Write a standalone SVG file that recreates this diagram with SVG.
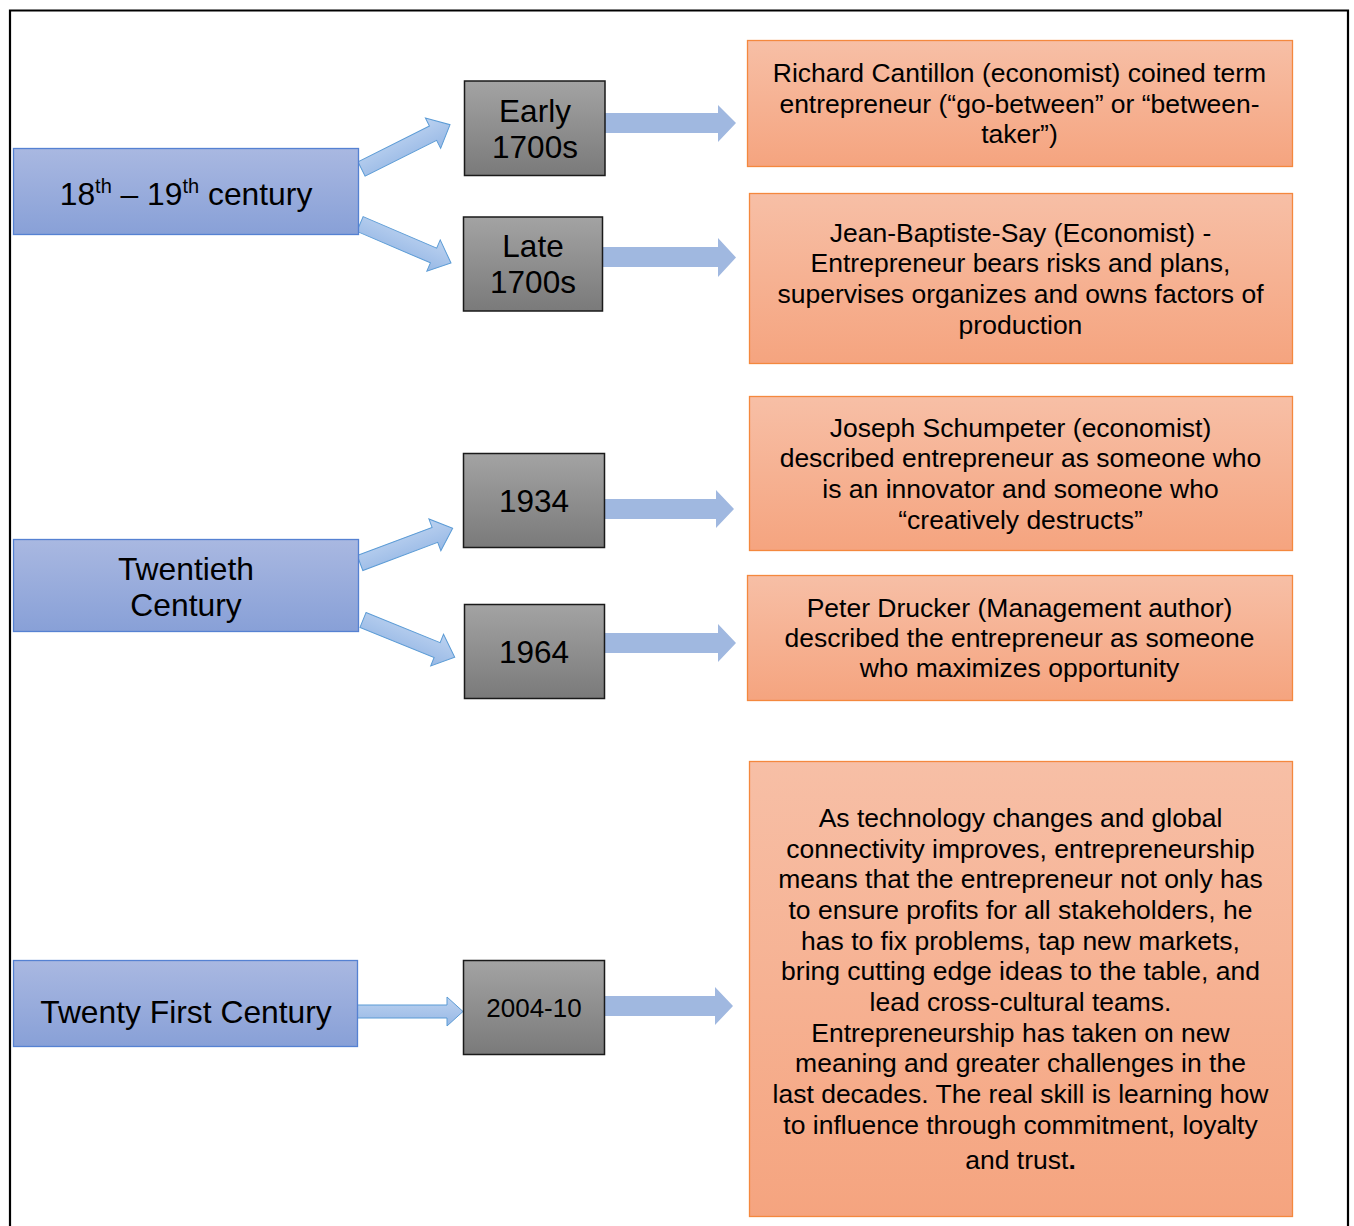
<svg xmlns="http://www.w3.org/2000/svg" width="1354" height="1226" viewBox="0 0 1354 1226">
<defs>
<linearGradient id="gBlue" x1="0" y1="0" x2="0" y2="1"><stop offset="0" stop-color="#a9b8e1"/><stop offset="1" stop-color="#88a0d7"/></linearGradient>
<linearGradient id="gGray" x1="0" y1="0" x2="0" y2="1"><stop offset="0" stop-color="#a3a3a3"/><stop offset="1" stop-color="#7a7a7a"/></linearGradient>
<linearGradient id="gOrange" x1="0" y1="0" x2="0" y2="1"><stop offset="0" stop-color="#f7bfa6"/><stop offset="1" stop-color="#f5a47f"/></linearGradient>
<linearGradient id="gArrow" x1="0" y1="0" x2="0" y2="1"><stop offset="0" stop-color="#bcd2f0"/><stop offset="1" stop-color="#97b8e5"/></linearGradient>
<path id="diag" d="M0,-8 H80 V-17 L99,0 L80,17 V8 H0 Z"/>
</defs>
<style>
text{font-family:"Liberation Sans",Arial,sans-serif;fill:#000;text-anchor:middle}
.blue{fill:url(#gBlue);stroke:#5581d2;stroke-width:1.3}
.gray{fill:url(#gGray);stroke:#1a1a1a;stroke-width:1.5}
.orange{fill:url(#gOrange);stroke:#f4883e;stroke-width:1.3}
.bt{font-size:31.8px}
.gt{font-size:31.5px}
.ot{font-size:26.5px}
.da{fill:url(#gArrow);stroke:#5b9bd5;stroke-width:1}
.ha{fill:#a0b8e0}
</style>
<path d="M10,1226 V10.5 H1348 V1226" fill="none" stroke="#000" stroke-width="2.2"/>
<g id="connectors">
<use href="#diag" class="da" transform="translate(361.5,169) rotate(-26.6)"/>
<use href="#diag" class="da" transform="translate(360,224) rotate(23.2)"/>
<use href="#diag" class="da" transform="translate(360,563) rotate(-20.6)"/>
<use href="#diag" class="da" transform="translate(363,620) rotate(22.1)"/>
<path class="da" d="M356,1005 H447 V997 L463,1011.5 L447,1026 V1018 H356 Z"/>
<path class="ha" d="M605,113 H718 V105 L736,123 L718,142 V133 H605 Z"/>
<path class="ha" d="M603,247 H718 V238 L736,257.5 L718,277 V267 H603 Z"/>
<path class="ha" d="M604,499 H716 V490 L734,509 L716,528 V519 H604 Z"/>
<path class="ha" d="M605,633 H718 V624 L736,643 L718,662 V653 H605 Z"/>
<path class="ha" d="M604,996 H715 V987 L733,1006 L715,1025 V1016 H604 Z"/>
</g>
<g id="n-18th">
<rect class="blue" x="13.5" y="148.5" width="345" height="86"/>
<text class="bt" x="186" y="205">18<tspan font-size="20" dy="-12">th</tspan><tspan dy="12"> – 19</tspan><tspan font-size="20" dy="-12">th</tspan><tspan dy="12"> century</tspan></text>
</g>
<g id="n-20th">
<rect class="blue" x="13.5" y="539.5" width="345" height="92"/>
<text class="bt" x="186" y="580">Twentieth</text>
<text class="bt" x="186" y="616">Century</text>
</g>
<g id="n-21st">
<rect class="blue" x="13.5" y="960.5" width="344" height="86"/>
<text class="bt" x="186" y="1023">Twenty First Century</text>
</g>
<g id="n-early">
<rect class="gray" x="464.5" y="81" width="140.5" height="94.5"/>
<text class="gt" x="535" y="122">Early</text>
<text class="gt" x="535" y="158">1700s</text>
</g>
<g id="n-late">
<rect class="gray" x="463.5" y="217" width="139" height="94"/>
<text class="gt" x="533" y="257">Late</text>
<text class="gt" x="533" y="293">1700s</text>
</g>
<g id="n-1934">
<rect class="gray" x="463.5" y="453.5" width="141" height="94"/>
<text class="gt" x="534" y="512">1934</text>
</g>
<g id="n-1964">
<rect class="gray" x="464.5" y="604.5" width="140" height="94"/>
<text class="gt" x="534" y="663">1964</text>
</g>
<g id="n-2004">
<rect class="gray" x="463.5" y="960.5" width="141" height="94"/>
<text x="534" y="1017" font-size="26px">2004-10</text>
</g>
<g id="n-cantillon">
<rect class="orange" x="747.5" y="40.5" width="545" height="126"/>
<text class="ot" x="1019.5" y="82">Richard Cantillon (economist) coined term</text>
<text class="ot" x="1019.5" y="113">entrepreneur (“go-between” or “between-</text>
<text class="ot" x="1019.5" y="143">taker”)</text>
</g>
<g id="n-say">
<rect class="orange" x="749.5" y="193.5" width="543" height="170"/>
<text class="ot" x="1020.5" y="242">Jean-Baptiste-Say (Economist) -</text>
<text class="ot" x="1020.5" y="272">Entrepreneur bears risks and plans,</text>
<text class="ot" x="1020.5" y="303">supervises organizes and owns factors of</text>
<text class="ot" x="1020.5" y="334">production</text>
</g>
<g id="n-schumpeter">
<rect class="orange" x="749.5" y="396.5" width="543" height="154"/>
<text class="ot" x="1020.5" y="437">Joseph Schumpeter (economist)</text>
<text class="ot" x="1020.5" y="467">described entrepreneur as someone who</text>
<text class="ot" x="1020.5" y="498">is an innovator and someone who</text>
<text class="ot" x="1020.5" y="529">“creatively destructs”</text>
</g>
<g id="n-drucker">
<rect class="orange" x="747.5" y="575.5" width="545" height="125"/>
<text class="ot" x="1019.5" y="617">Peter Drucker (Management author)</text>
<text class="ot" x="1019.5" y="647">described the entrepreneur as someone</text>
<text class="ot" x="1019.5" y="677">who maximizes opportunity</text>
</g>
<g id="n-modern">
<rect class="orange" x="749.5" y="761.5" width="543" height="455"/>
<text class="ot" x="1020.5" y="827">As technology changes and global</text>
<text class="ot" x="1020.5" y="858">connectivity improves, entrepreneurship</text>
<text class="ot" x="1020.5" y="888">means that the entrepreneur not only has</text>
<text class="ot" x="1020.5" y="919">to ensure profits for all stakeholders, he</text>
<text class="ot" x="1020.5" y="950">has to fix problems, tap new markets,</text>
<text class="ot" x="1020.5" y="980">bring cutting edge ideas to the table, and</text>
<text class="ot" x="1020.5" y="1011">lead cross-cultural teams.</text>
<text class="ot" x="1020.5" y="1042">Entrepreneurship has taken on new</text>
<text class="ot" x="1020.5" y="1072">meaning and greater challenges in the</text>
<text class="ot" x="1020.5" y="1103">last decades. The real skill is learning how</text>
<text class="ot" x="1020.5" y="1134">to influence through commitment, loyalty</text>
<text class="ot" x="1020.5" y="1169">and trust<tspan font-weight="bold">.</tspan></text>
</g>
</svg>
